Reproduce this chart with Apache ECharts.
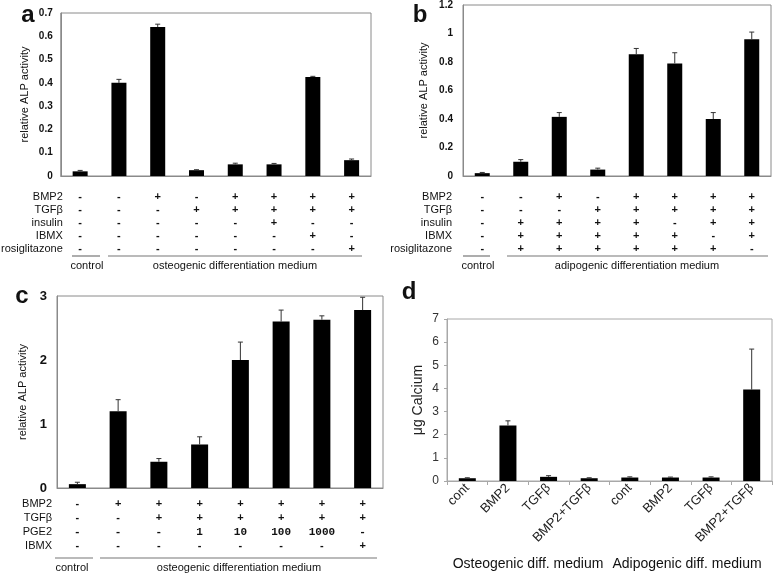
<!DOCTYPE html>
<html><head><meta charset="utf-8">
<script src="https://cdn.jsdelivr.net/npm/echarts@6/dist/echarts.min.js"></script>
<style>html,body{margin:0;padding:0;background:#fff}#c{width:778px;height:576px}</style>
</head><body><div id="c"></div>
<script>
// ---------- data ----------
const idx8 = ['1','2','3','4','5','6','7','8'];

const aValues = [0.02, 0.40, 0.64, 0.025, 0.05, 0.05, 0.425, 0.068];
const aErrors = [0.004, 0.015, 0.012, 0.002, 0.005, 0.004, 0.003, 0.005];
const aRowNames = ['BMP2', 'TGFβ', 'insulin', 'IBMX', 'rosiglitazone'];
const aRows = [
  ['-','-','+','-','+','+','+','+'],
  ['-','-','-','+','+','+','+','+'],
  ['-','-','-','-','-','+','-','-'],
  ['-','-','-','-','-','-','+','-'],
  ['-','-','-','-','-','-','-','+']
];

const bValues = [0.02, 0.10, 0.415, 0.045, 0.855, 0.79, 0.40, 0.96];
const bErrors = [0.005, 0.015, 0.03, 0.01, 0.04, 0.075, 0.045, 0.05];
const bRowNames = ['BMP2', 'TGFβ', 'insulin', 'IBMX', 'rosiglitazone'];
const bRows = [
  ['-','-','+','-','+','+','+','+'],
  ['-','-','-','+','+','+','+','+'],
  ['-','+','+','+','+','-','+','+'],
  ['-','+','+','+','+','+','-','+'],
  ['-','+','+','+','+','+','+','-']
];

const cValues = [0.06, 1.2, 0.41, 0.68, 2.0, 2.6, 2.63, 2.78];
const cErrors = [0.03, 0.18, 0.05, 0.12, 0.28, 0.18, 0.06, 0.2];
const cRowNames = ['BMP2', 'TGFβ', 'PGE2', 'IBMX'];
const cRows = [
  ['-','+','+','+','+','+','+','+'],
  ['-','-','+','+','+','+','+','+'],
  ['-','-','-','1','10','100','1000','-'],
  ['-','-','-','-','-','-','-','+']
];

const dCategories = ['cont','BMP2','TGFβ','BMP2+TGFβ','cont','BMP2','TGFβ','BMP2+TGFβ'];
const dValues = [0.12, 2.4, 0.18, 0.12, 0.15, 0.15, 0.15, 3.95];
const dErrors = [0.02, 0.2, 0.05, 0.02, 0.03, 0.02, 0.03, 1.75];

const yTicksA = {min:0, max:0.7, interval:0.1};
const yTicksB = {min:0, max:1.2, interval:0.2};
const yTicksC = {min:0, max:3, interval:1};
const yTicksD = {min:0, max:7, interval:1};

// ---------- layout ----------
const FONT = 'Liberation Sans, Arial, sans-serif';
const grids = [
  {left:60, top:13, width:311, height:163},
  {left:463, top:5, width:308, height:171},
  {left:57, top:296, width:326, height:192},
  {left:447, top:319, width:325, height:162}
];
grids.forEach((g,i)=>{ g.show = true; g.borderColor = i===3 ? '#a8a8a8' : '#8a8a8a'; g.borderWidth = 1; g.containLabel=false; });

const xAxis = [], yAxis = [], series = [];

function errSeries(xi, yi, vals, errs, capHalf) {
  return {
    type:'custom', xAxisIndex:xi, yAxisIndex:yi, z:5, silent:true,
    data: vals.map((v,i)=>[i, v, errs[i]]),
    renderItem: function(params, api){
      const x = api.value(0), v = api.value(1), e = api.value(2);
      const top = api.coord([x, v+e]);
      const base = api.coord([x, v]);
      return {type:'group', children:[
        {type:'line', shape:{x1:top[0], y1:top[1], x2:base[0], y2:base[1]}, style:{stroke:'#333', lineWidth:1}},
        {type:'line', shape:{x1:top[0]-capHalf, y1:top[1], x2:top[0]+capHalf, y2:top[1]}, style:{stroke:'#333', lineWidth:1}}
      ]};
    }
  };
}

function addPanel(p, cats, vals, errs, yt, yopts, barW, rowNames, rows, rowOffsets, nameGapRow, rowFont) {
  const mainX = xAxis.length;
  xAxis.push(Object.assign({
    type:'category', gridIndex:p, data:cats,
    axisLine:{show:true, lineStyle:{color: p===3 ? '#a8a8a8' : '#8a8a8a'}},
    axisTick:{show:false}, axisLabel:{show:false}
  }, yopts.x || {}));
  const yi = yAxis.length;
  yAxis.push(Object.assign({
    type:'value', gridIndex:p, min:yt.min, max:yt.max, interval:yt.interval,
    splitLine:{show:false},
    axisLine:{show:true, lineStyle:{color: p===3 ? '#a8a8a8' : '#8a8a8a'}},
    axisTick:{show:false}
  }, yopts.y));
  series.push({type:'bar', xAxisIndex:mainX, yAxisIndex:yi, data:vals, barWidth:barW, itemStyle:{color:'#000'}, z:3});
  series.push(errSeries(mainX, yi, vals, errs, 2.5));
  if (rows) {
    rows.forEach((r, k)=>{
      const mono = rowFont && rowFont[k];
      xAxis.push({
        type:'category', gridIndex:p, data:r, position:'bottom', offset:rowOffsets[k],
        axisLine:{show:false}, axisTick:{show:false},
        axisLabel:{show:true, interval:0, margin:0, verticalAlign:'middle', color:'#111',
          fontSize:11, fontFamily: mono || FONT, fontWeight:'bold'},
        name:rowNames[k], nameLocation:'start', nameGap:nameGapRow,
        nameTextStyle:{align:'right', verticalAlign:'middle', fontSize:11, color:'#111', fontFamily:FONT}
      });
    });
  }
}

const yNameStyle = {fontSize:11, color:'#111', fontFamily:FONT};

addPanel(0, idx8, aValues, aErrors, yTicksA,
  {y:{name:'relative ALP activity', nameLocation:'middle', nameGap:30, nameTextStyle:yNameStyle,
      axisLabel:{fontSize:10, fontWeight:'bold', color:'#111', fontFamily:FONT, margin:8}}},
  15, aRowNames, aRows, [21,34,47,60,73], -2);

addPanel(1, idx8, bValues, bErrors, yTicksB,
  {y:{name:'relative ALP activity', nameLocation:'middle', nameGap:34, nameTextStyle:yNameStyle,
      axisLabel:{fontSize:10, fontWeight:'bold', color:'#111', fontFamily:FONT, margin:10}}},
  15, bRowNames, bRows, [21,34,47,60,73], 11);

addPanel(2, idx8, cValues, cErrors, yTicksC,
  {y:{name:'relative ALP activity', nameLocation:'middle', nameGap:29, nameTextStyle:yNameStyle,
      axisLabel:{fontSize:13, fontWeight:'bold', color:'#111', fontFamily:FONT, margin:10}}},
  17, cRowNames, cRows, [16,30,44,58], 5, [null, null, 'Liberation Mono, monospace', null]);

addPanel(3, dCategories, dValues, dErrors, yTicksD,
  {y:{name:'μg Calcium', nameLocation:'middle', nameGap:22, nameTextStyle:{fontSize:14, color:'#222', fontFamily:FONT},
      axisTick:{show:true, length:3, lineStyle:{color:'#a8a8a8'}},
      axisLabel:{fontSize:12, color:'#333', fontFamily:FONT, margin:8}},
   x:{axisTick:{show:true, length:4, lineStyle:{color:'#a8a8a8'}},
      axisLabel:{show:true, interval:0, rotate:45, fontSize:13, color:'#222', fontFamily:FONT, margin:5}}},
  17, null, null, null, 0);

// ---------- annotations ----------
function hline(x1, x2, y){ return {type:'line', shape:{x1:x1, y1:y, x2:x2, y2:y}, style:{stroke:'#777', lineWidth:1.2}}; }
function txt(x, y, s, size, weight, align){ return {type:'text', x:x, y:y, style:{text:s, fontSize:size, fontWeight:weight||'normal', fontFamily:FONT, fill:'#111', textAlign:align||'center', textVerticalAlign:'middle'}}; }

const graphic = [
  txt(28, 15, 'a', 24, 'bold'),
  txt(420, 15, 'b', 24, 'bold'),
  txt(22, 296, 'c', 24, 'bold'),
  txt(409, 292, 'd', 24, 'bold'),
  hline(72, 100, 256), hline(108, 362, 256),
  txt(87, 266, 'control', 11), txt(235, 266, 'osteogenic differentiation medium', 11),
  hline(463, 490, 256), hline(507, 768, 256),
  txt(478, 266, 'control', 11), txt(637, 266, 'adipogenic differentiation medium', 11),
  hline(55, 93, 558), hline(100, 377, 558),
  txt(72, 568, 'control', 11), txt(239, 568, 'osteogenic differentiation medium', 11),
  txt(528, 564, 'Osteogenic diff. medium', 14), txt(687, 564, 'Adipogenic diff. medium', 14)
];

const chart = echarts.init(document.getElementById('c'), null, {renderer:'canvas'});
chart.setOption({animation:false, backgroundColor:'#fff', grid:grids, xAxis:xAxis, yAxis:yAxis, series:series, graphic:graphic});
</script>
</body></html>
